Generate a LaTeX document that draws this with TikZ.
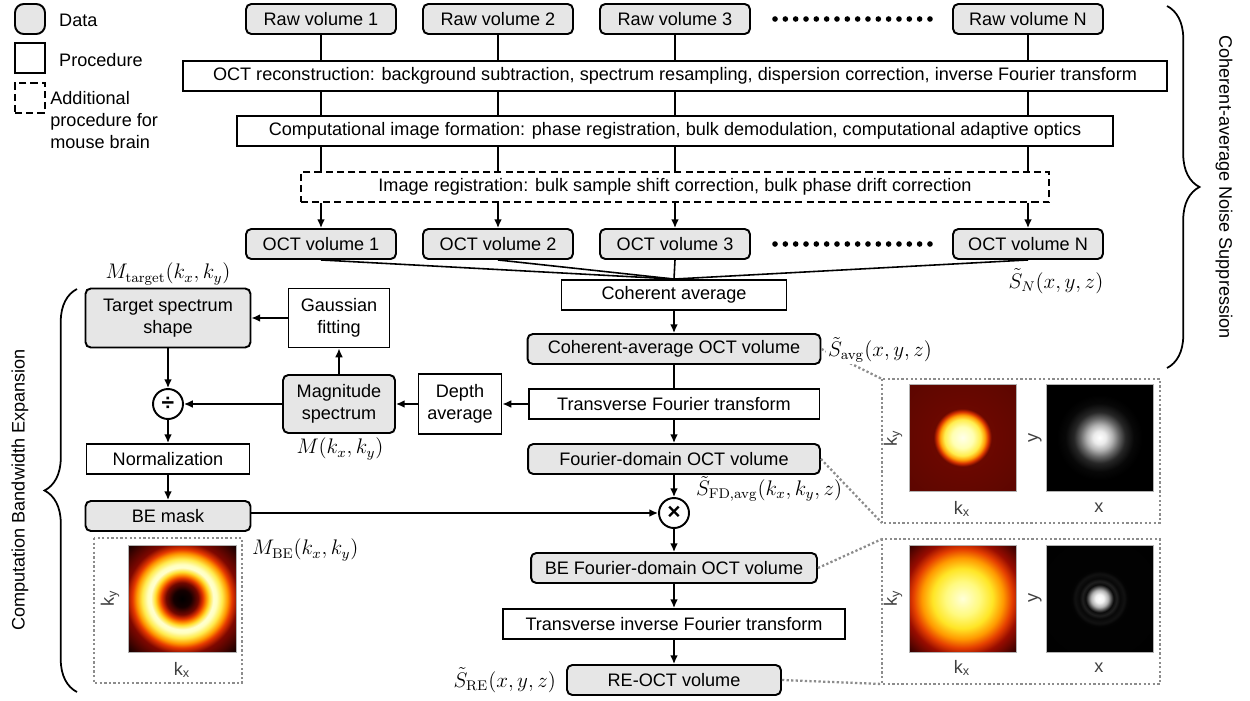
\documentclass[tikz,border=0pt]{standalone}
\usepackage[no-math]{fontspec}
\setmainfont{Liberation Sans}
\usetikzlibrary{arrows.meta,decorations.pathreplacing}
\definecolor{boxgray}{RGB}{230,230,230}
\definecolor{dotgray}{RGB}{140,140,140}
% spectra and point spread functions of the inset images
\pgfdeclareradialshading{fdspec}{\pgfpoint{0bp}{0bp}}{rgb(0bp)=(1,1,0.92); rgb(5bp)=(1,1,0.7); rgb(8.5bp)=(1,0.93,0.3); rgb(10.5bp)=(1,0.62,0.02); rgb(12bp)=(0.85,0.2,0); rgb(13.5bp)=(0.42,0.03,0); rgb(50bp)=(0.32,0.02,0)}
\pgfdeclareradialshading{bespec}{\pgfpoint{0bp}{0bp}}{rgb(0bp)=(1,1,0.85); rgb(8bp)=(1,0.98,0.5); rgb(14bp)=(1,0.9,0.15); rgb(19bp)=(1,0.6,0); rgb(23bp)=(0.9,0.25,0); rgb(27bp)=(0.6,0.05,0); rgb(35bp)=(0.2,0,0); rgb(50bp)=(0.1,0,0)}
\pgfdeclareradialshading{bemaskspec}{\pgfpoint{0bp}{0bp}}{rgb(0bp)=(0,0,0); rgb(4bp)=(0.08,0,0); rgb(7.5bp)=(0.45,0.03,0); rgb(9.5bp)=(0.88,0.2,0); rgb(11bp)=(1,0.55,0); rgb(12.5bp)=(1,0.88,0.2); rgb(14.5bp)=(1,1,0.82); rgb(16bp)=(1,1,0.75); rgb(18.5bp)=(1,0.92,0.3); rgb(21bp)=(1,0.6,0); rgb(23bp)=(0.9,0.22,0); rgb(26bp)=(0.5,0.03,0); rgb(35bp)=(0.08,0,0); rgb(50bp)=(0,0,0)}
\pgfdeclareradialshading{psfavg}{\pgfpoint{0bp}{0bp}}{rgb(0bp)=(1,1,1); rgb(3bp)=(0.92,0.92,0.92); rgb(6bp)=(0.7,0.7,0.7); rgb(9bp)=(0.4,0.4,0.4); rgb(12bp)=(0.15,0.15,0.15); rgb(16bp)=(0.03,0.03,0.03); rgb(20bp)=(0,0,0); rgb(50bp)=(0,0,0)}
\pgfdeclareradialshading{psfre}{\pgfpoint{0bp}{0bp}}{rgb(0bp)=(1,1,1); rgb(2bp)=(0.95,0.95,0.95); rgb(4bp)=(0.7,0.7,0.7); rgb(5.5bp)=(0.3,0.3,0.3); rgb(6.5bp)=(0.04,0.04,0.04); rgb(8bp)=(0.12,0.12,0.12); rgb(9.5bp)=(0.03,0.03,0.03); rgb(11.5bp)=(0.07,0.07,0.07); rgb(13bp)=(0.01,0.01,0.01); rgb(50bp)=(0,0,0)}
\tikzset{
  databox/.style={draw, line width=1.1pt, rounded corners=3pt, fill=boxgray, minimum height=0.6cm, inner sep=1pt},
  procbox/.style={draw, line width=1.1pt, minimum height=0.6cm, inner sep=1pt},
  regbox/.style={procbox, dash pattern=on 4pt off 2.4pt},
  opcircle/.style={draw, circle, line width=1.1pt, minimum size=0.6cm, inner sep=0pt, font=\fontsize{13}{13}\selectfont\bfseries},
  wire/.style={line width=0.9pt},
  arrowline/.style={wire, -{Latex[length=5pt,width=4.5pt]}},
  inset/.style={draw=dotgray, line width=1.3pt, dash pattern=on 1.3pt off 1.3pt},
  imgframe/.style={draw=gray!60, line width=0.4pt},
  eqlabel/.style={font=\fontsize{12}{14}\selectfont, inner sep=1pt},
  axislabel/.style={text=black!75, inner sep=0pt},
  sidebrace/.style={line width=1pt, decorate, decoration={brace, amplitude=0.65cm}}
}

\begin{document}
\begin{tikzpicture}[x=0.02cm, y=-0.02cm, font=\fontsize{10.3}{12.4}\selectfont]
	\useasboundingbox (0,0) rectangle (1250,700);
	%%%%% LEGEND %%%%%
	\node[databox, minimum size=0.6cm, rounded corners=5pt] (lgdata) at (30,19) {};
	\node[anchor=west] (lgdatatxt) at (53,20) {Data};
	\node[procbox, minimum size=0.6cm] (lgproc) at (30,58) {};
	\node[anchor=west] (lgproctxt) at (53,60) {Procedure};
	\node[regbox, minimum size=0.6cm] (lgreg) at (30,98) {};
	\node[anchor=north west, align=left, inner sep=0pt] (lgregtxt) at (50,91) {Additional\\procedure for\\mouse brain};
	
	%%%%% COHERENT AVERAGE %%%%%
	\foreach \i/\x in {1/321, 2/498, 3/675, N/1028}
	{
		\node[databox, minimum width=3cm] (raw\i) at (\x,19) {Raw volume \i};
		\node[databox, minimum width=3cm] (oct\i) at (\x,244) {OCT volume \i};
	}
	\foreach \k in {0,...,15}
	{
		\fill (775+\k*10.33,19) circle[radius=1.6pt];
		\fill (775+\k*10.33,244) circle[radius=1.6pt];
	}
	
	\node[procbox, minimum width=19.7cm] (recon) at (675,76) {OCT reconstruction: background subtraction, spectrum resampling, dispersion correction, inverse Fourier transform};
	\node[procbox, minimum width=17.54cm] (cif) at (675,131) {Computational image formation: phase registration, bulk demodulation, computational adaptive optics};
	\node[regbox, minimum width=14.98cm] (imreg) at (675,187) {Image registration: bulk sample shift correction, bulk phase drift correction};
	\node[procbox, minimum width=4.5cm] (cohavg) at (674,295) {Coherent average};
	
	\foreach \i in {1,2,3,N}
	{
		\draw[wire] (raw\i) -- (raw\i |- recon.north);
		\draw[wire] (raw\i |- recon.south) -- (raw\i |- cif.north);
		\draw[wire] (raw\i |- cif.south) -- (raw\i |- imreg.north);
		\draw[arrowline] (raw\i |- imreg.south) -- (oct\i);
		\draw[wire] (oct\i.south) -- (cohavg.north);
	}
	
	%%%%% CENTRAL COLUMN %%%%%
	\node[databox, minimum width=5.86cm] (cavgoct) at (674,349) {Coherent-average OCT volume};
	\node[procbox, minimum width=5.82cm] (tft) at (674,404) {Transverse Fourier transform};
	\node[databox, minimum width=5.84cm] (fdoct) at (674,459) {Fourier-domain OCT volume};
	\node[opcircle] (mult) at (674,513) {×};
	\node[databox, minimum width=5.72cm] (befd) at (674,568) {BE Fourier-domain OCT volume};
	\node[procbox, minimum width=6.84cm] (tift) at (674,624) {Transverse inverse Fourier transform};
	\node[databox, minimum width=4.28cm] (reoct) at (674,680) {RE-OCT volume};
	
	%%%%% BANDWIDTH EXPANSION %%%%%
	\node[databox, minimum width=3.3cm, minimum height=1.18cm, align=center] (target) at (168,318) {Target spectrum\\shape};
	\node[procbox, minimum width=2.02cm, minimum height=1.18cm, align=center] (gauss) at (339,318) {Gaussian\\fitting};
	\node[opcircle] (divide) at (168,404) {÷};
	\node[databox, minimum width=2.24cm, minimum height=1.16cm, align=center] (mag) at (339,404) {Magnitude\\spectrum};
	\node[procbox, minimum width=1.66cm, minimum height=1.2cm, align=center] (depth) at (460,404) {Depth\\average};
	\node[procbox, minimum width=3.26cm] (norm) at (168,459) {Normalization};
	\node[databox, minimum width=3.3cm] (bemask) at (168,516) {BE mask};
	
	\draw[arrowline] (cohavg) -- (cavgoct);
	\draw[wire] (cavgoct) -- (tft);
	\draw[arrowline] (tft) -- (fdoct);
	\draw[arrowline] (fdoct) -- (mult);
	\draw[arrowline] (mult) -- (befd);
	\draw[arrowline] (befd) -- (tift);
	\draw[arrowline] (tift) -- (reoct);
	\draw[arrowline] (tft) -- (depth);
	\draw[arrowline] (depth) -- (mag);
	\draw[arrowline] (mag) -- (gauss);
	\draw[arrowline] (gauss) -- (target);
	\draw[arrowline] (target) -- (divide);
	\draw[arrowline] (mag) -- (divide);
	\draw[arrowline] (divide) -- (norm);
	\draw[arrowline] (norm) -- (bemask);
	\draw[arrowline] (bemask.east |- mult) -- (mult);
	
	%%%%% INSETS %%%%%
	\coordinate (upTL) at (882,379);
	\coordinate (upBL) at (882,523);
	\coordinate (loTL) at (882,539);
	\coordinate (loBL) at (882,684);
	\draw[inset] (upTL) rectangle (1160,523);
	\draw[inset] (loTL) rectangle (1160,684);
	\draw[inset] (94,538) rectangle (242,683);
	\draw[inset] (cavgoct.east) -- (upTL);
	\draw[inset] (fdoct.east) -- (upBL);
	\draw[inset] (befd.east) -- (loTL);
	\draw[inset] (reoct.east) -- (loBL);
	
	\shadedraw[shading=fdspec, imgframe] (909,384) rectangle (1016,491);
	\shadedraw[shading=psfavg, imgframe] (1046,384) rectangle (1153,491);
	\shadedraw[shading=bespec, imgframe] (909,545) rectangle (1016,652);
	\shadedraw[shading=psfre, imgframe] (1046,545) rectangle (1153,652);
	\shadedraw[shading=bemaskspec, imgframe] (128,545) rectangle (236,652);
	
	\node[axislabel, rotate=90] at (893,438) {k\textsubscript{y}};
	\node[axislabel, rotate=90] at (1035,438) {y};
	\node[axislabel] at (962,509) {k\textsubscript{x}};
	\node[axislabel] at (1099,508) {x};
	\node[axislabel, rotate=90] at (893,598) {k\textsubscript{y}};
	\node[axislabel, rotate=90] at (1035,598) {y};
	\node[axislabel] at (962,668) {k\textsubscript{x}};
	\node[axislabel] at (1099,668) {x};
	\node[axislabel, rotate=90] at (110,598) {k\textsubscript{y}};
	\node[axislabel] at (182,670) {k\textsubscript{x}};
	
	%%%%% EQUATION LABELS %%%%%
	\node[eqlabel] (mtarget) at (168,274) {$M_{\mathrm{target}}\bigl(k_x,k_y\bigr)$};
	\node[eqlabel] (mmag) at (340,449) {$M\bigl(k_x,k_y\bigr)$};
	\node[eqlabel] (sn) at (1056,281) {$\tilde{S}_{N}\bigl(x,y,z\bigr)$};
	\node[eqlabel, anchor=west, fill=white] (savg) at (826,350) {$\tilde{S}_{\mathrm{avg}}\bigl(x,y,z\bigr)$};
	\node[eqlabel, anchor=west] (sfd) at (694,489) {$\tilde{S}_{\mathrm{FD,avg}}\bigl(k_x,k_y,z\bigr)$};
	\node[eqlabel, anchor=west] (mbe) at (250,550) {$M_{\mathrm{BE}}\bigl(k_x,k_y\bigr)$};
	\node[eqlabel, anchor=east] (sre) at (558,680) {$\tilde{S}_{\mathrm{RE}}\bigl(x,y,z\bigr)$};
	
	%%%%% BRACES %%%%%
	\draw[sidebrace] (1167,6) -- (1167,368);
	\node[rotate=-90] (cans) at (1224,187) {Coherent-average Noise Suppression};
	\draw[sidebrace] (77,692) -- (77,289);
	\node[rotate=90] (cbe) at (20,490) {Computation Bandwidth Expansion};
\end{tikzpicture}
\end{document}
